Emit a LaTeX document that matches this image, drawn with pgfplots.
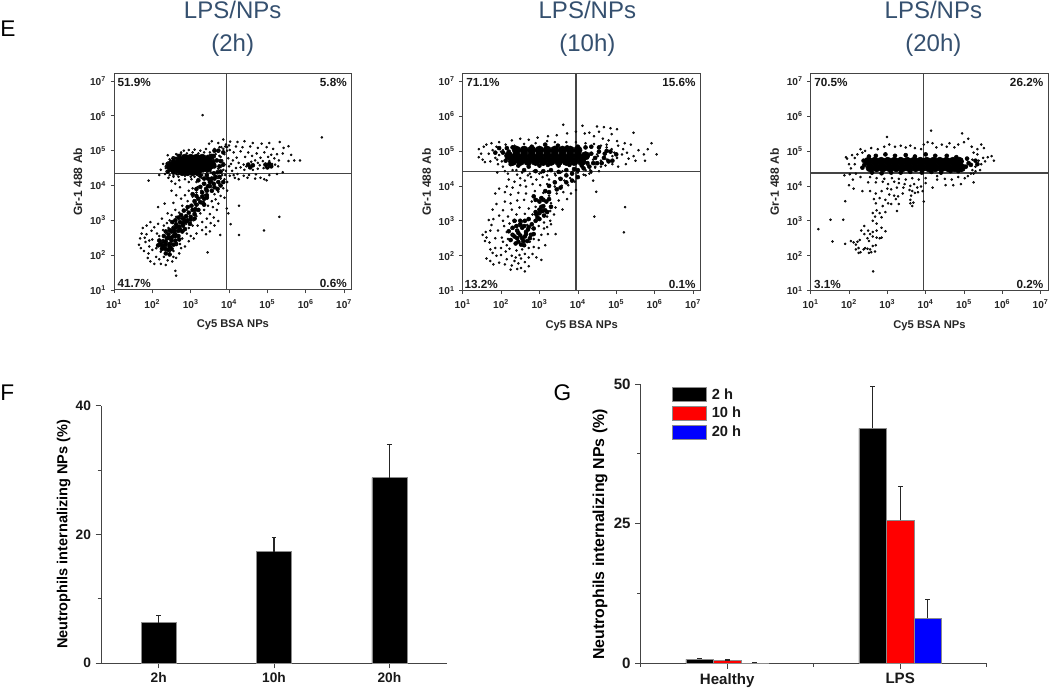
\documentclass[border=0pt]{standalone}
\usepackage{pgfplots}
\usepackage{pgfplotstable}
\usepackage{fontspec}
\setmainfont{Liberation Sans}
\pgfplotsset{compat=1.18}
\definecolor{ttl}{HTML}{35506F}
\definecolor{axc}{HTML}{444444}
% flow cytometry events: log10(x) log10(y)
\pgfplotstableread[row sep=\\]{x y\\
3.31 6.02\\ 6.42 5.38\\ 1.90 4.14\\ 4.26 3.42\\ 4.26 2.58\\ 4.91 2.71\\ 5.31 3.10\\ 3.94 3.34\\ 3.98 3.20\\ 4.04 2.89\\ 3.77 2.58\\ 3.44 2.08\\ 2.62 1.41\\ 2.60 1.55\\
5.05 5.22\\ 5.32 5.25\\ 4.85 5.20\\ 4.62 5.22\\ 4.40 5.27\\ 4.22 5.25\\ 4.03 5.26\\ 3.85 5.32\\ 3.55 5.27\\ 3.48 5.20\\ 3.72 5.22\\ 3.92 5.18\\ 4.18 5.12\\ 4.35 5.10\\ 4.55 5.12\\ 4.75 5.08\\ 4.98 5.10\\ 5.15 5.05\\ 5.42 5.08\\ 5.55 5.13\\ 5.40 4.92\\ 5.62 4.88\\ 5.30 4.72\\ 5.55 4.70\\ 5.70 4.72\\ 5.85 4.72\\ 5.25 4.90\\ 5.10 4.88\\ 4.92 4.95\\ 4.72 4.92\\ 4.50 4.95\\ 4.30 4.98\\ 4.12 4.95\\ 4.02 5.02\\ 4.20 4.80\\ 4.42 4.82\\ 4.60 4.85\\ 4.82 4.80\\ 5.02 4.82\\ 5.18 4.78\\ 4.10 4.72\\ 4.25 4.65\\ 4.38 4.60\\ 4.45 4.55\\ 4.52 4.62\\ 4.58 4.68\\ 4.68 4.72\\ 4.75 4.65\\ 4.80 4.58\\ 4.88 4.70\\ 4.95 4.62\\ 5.00 4.55\\ 5.05 4.70\\ 5.12 4.62\\ 5.20 4.60\\ 5.28 4.55\\ 4.90 4.50\\ 4.75 4.48\\ 4.62 4.45\\ 4.40 4.45\\ 4.30 4.52\\ 4.18 4.50\\ 4.08 4.42\\ 4.00 4.55\\ 4.05 4.62\\ 4.12 4.30\\ 4.02 4.28\\ 4.22 4.33\\ 4.38 4.28\\ 4.48 4.22\\ 4.52 4.30\\ 4.70 4.32\\ 4.82 4.22\\ 4.92 4.18\\ 4.98 4.15\\ 5.05 4.30\\ 5.25 4.33\\ 5.40 4.38\\ 4.68 4.20\\ 4.25 4.18\\ 4.15 4.22\\
3.95 5.10\\ 3.80 5.10\\ 3.62 5.05\\ 3.40 5.05\\ 3.25 5.00\\ 3.10 5.03\\ 2.95 5.02\\ 2.82 5.00\\ 3.72 4.98\\ 3.88 4.90\\ 3.98 4.78\\ 3.78 4.82\\ 3.85 4.65\\ 2.40 4.87\\ 2.60 4.75\\ 2.47 4.70\\ 2.35 4.55\\ 2.28 4.62\\ 2.22 4.45\\ 2.33 4.33\\ 2.18 4.30\\ 2.42 4.22\\ 2.55 4.25\\ 2.50 4.12\\ 2.70 4.15\\ 2.60 4.05\\ 2.85 4.18\\ 2.95 4.10\\ 2.75 4.95\\ 2.62 4.90\\ 3.50 4.88\\ 3.62 4.82\\ 3.92 4.42\\ 3.82 4.30\\ 3.88 4.18\\ 3.95 4.10\\ 3.75 4.02\\ 3.85 3.92\\ 3.95 3.85\\ 3.72 3.82\\ 3.78 3.70\\ 3.88 3.65\\ 3.62 3.75\\ 3.65 3.60\\ 3.55 3.55\\ 3.72 3.48\\ 3.45 3.42\\ 3.58 3.38\\ 3.30 3.52\\ 3.68 3.30\\ 3.35 3.30\\ 3.18 3.45\\ 3.50 3.18\\ 3.25 3.20\\ 3.60 3.08\\ 3.42 3.05\\ 3.15 3.12\\ 3.72 2.98\\ 3.30 2.95\\ 3.52 2.92\\ 3.62 2.85\\ 3.40 2.80\\ 3.18 2.85\\ 3.30 2.72\\ 3.50 2.68\\ 3.15 2.62\\ 3.40 2.60\\
3.05 3.92\\ 3.15 3.80\\ 2.95 3.85\\ 2.72 3.95\\ 2.85 3.72\\ 3.05 3.68\\ 2.75 3.62\\ 2.62 3.72\\ 2.50 3.85\\ 2.92 3.55\\ 3.10 3.50\\ 2.55 3.50\\ 2.78 3.42\\ 2.32 3.48\\ 2.60 3.30\\ 2.90 3.30\\ 2.70 3.22\\ 2.50 3.15\\ 2.15 3.38\\ 2.40 3.20\\ 2.25 3.05\\ 2.45 3.00\\ 2.30 2.85\\ 2.15 2.90\\ 2.05 2.80\\ 1.98 2.70\\ 1.85 2.85\\ 1.75 2.78\\ 1.95 2.95\\ 1.85 2.60\\ 1.72 2.62\\ 1.80 2.50\\ 1.68 2.48\\ 1.92 2.42\\ 2.00 2.45\\ 1.82 2.38\\ 1.65 2.30\\ 1.70 2.20\\ 1.92 2.25\\ 1.78 2.12\\ 2.00 2.15\\ 1.90 2.05\\ 1.88 1.92\\ 1.95 1.82\\ 2.05 1.75\\ 2.18 1.88\\ 2.10 1.95\\ 2.22 1.75\\ 2.35 1.72\\ 2.40 1.85\\ 2.52 1.82\\ 2.30 1.95\\ 2.55 1.95\\ 2.62 1.92\\ 2.70 2.05\\ 2.75 2.20\\ 2.85 2.25\\ 2.72 2.32\\ 2.95 2.40\\ 3.00 2.55\\ 3.08 2.48\\ 2.90 2.62\\ 2.10 2.20\\ 2.22 2.10\\ 2.45 2.10\\ 2.55 2.12\\ 2.62 2.30\\ 2.48 2.35\\ 2.78 2.48\\ 2.82 2.70\\ 2.95 2.78\\ 2.88 2.90\\ 3.05 2.85\\ 3.08 3.00\\ 2.98 3.12\\ 3.12 3.25\\ 3.22 3.62\\ 3.35 3.72\\ 3.28 3.85\\ 3.18 3.95\\ 3.40 3.85\\ 3.32 4.05\\ 3.15 4.10\\ 3.02 4.18\\ 3.50 4.02\\ 3.28 4.22\\ 3.10 4.25\\ 2.25 2.40\\ 2.18 2.55\\ 2.35 2.65\\ 2.12 2.62\\ 2.28 2.72\\ 2.42 2.78\\ 2.55 2.82\\ 2.38 2.92\\ 2.62 2.95\\ 2.72 3.05\\ 2.80 3.10\\ 2.62 3.10\\
2.35 4.50\\ 2.40 4.65\\ 2.38 4.40\\ 2.45 4.30\\ 2.55 4.30\\ 2.65 4.35\\ 2.68 4.25\\ 2.45 4.75\\ 2.55 4.80\\ 2.65 4.88\\ 2.75 4.90\\ 2.90 4.92\\ 3.05 4.95\\ 3.20 4.92\\ 3.35 4.95\\ 3.50 4.95\\ 3.65 4.90\\ 3.75 4.85\\ 3.82 4.72\\ 3.58 4.75\\ 3.88 4.60\\ 3.80 4.55\\ 3.72 4.48\\ 3.85 4.45\\ 3.90 4.30\\ 3.78 4.20\\ 3.70 4.22\\ 3.30 4.30\\ 3.42 4.35\\ 3.52 4.38\\ 3.60 4.32\\ 3.20 4.28\\ 3.00 4.25\\ 2.85 4.28\\ 3.95 5.00\\ 3.90 5.12\\ 4.00 5.15\\ 3.85 5.05\\ 3.75 5.10\\
}\tAsparse
\pgfplotstableread[row sep=\\]{x y\\
2.78 4.40\\ 2.92 4.40\\ 3.05 4.40\\ 3.18 4.40\\
2.52 4.50\\ 2.65 4.50\\ 2.78 4.50\\ 2.92 4.50\\ 3.05 4.50\\ 3.18 4.50\\ 3.32 4.50\\ 3.45 4.50\\
2.50 4.60\\ 2.63 4.60\\ 2.76 4.60\\ 2.90 4.60\\ 3.03 4.60\\ 3.16 4.60\\ 3.30 4.60\\ 3.43 4.60\\ 3.55 4.60\\
2.62 4.70\\ 2.75 4.70\\ 2.88 4.70\\ 3.01 4.70\\ 3.14 4.70\\ 3.27 4.70\\ 3.40 4.70\\ 3.52 4.70\\
2.85 4.78\\ 3.00 4.78\\ 3.15 4.78\\ 3.30 4.78\\
}\tAcore
\pgfplotstableread[row sep=\\]{x y\\
3.62 4.55\\ 3.70 4.38\\ 3.68 4.72\\ 3.62 4.20\\ 3.52 4.12\\ 3.50 3.98\\ 3.42 3.85\\ 3.42 3.65\\ 3.32 3.50\\ 3.00 3.02\\ 2.92 3.00\\ 2.85 2.95\\ 2.80 2.85\\ 2.62 2.80\\ 2.55 2.68\\ 2.50 2.50\\ 2.42 2.50\\ 2.35 2.38\\ 2.28 2.28\\ 2.45 2.25\\ 2.35 2.18\\ 2.20 2.32\\ 2.60 2.55\\ 2.72 2.75\\ 3.10 3.05\\ 3.72 5.00\\ 3.55 4.85\\ 3.85 4.95\\ 3.62 5.00\\
3.25 3.96\\ 3.35 4.05\\ 3.15 3.90\\ 3.30 3.80\\ 3.40 3.90\\ 3.50 4.10\\ 3.55 4.20\\ 3.65 4.25\\ 3.45 4.20\\ 3.72 4.10\\ 3.60 4.05\\ 3.45 3.98\\ 3.30 3.68\\ 3.20 3.62\\ 3.25 3.52\\ 3.15 3.45\\ 3.35 3.45\\ 3.05 3.30\\ 2.95 3.22\\ 2.88 3.12\\ 3.00 3.10\\ 2.80 3.05\\ 2.75 3.15\\ 2.90 2.98\\ 2.72 2.95\\ 2.62 2.88\\ 2.70 2.82\\ 2.55 2.78\\ 2.50 2.68\\ 2.60 2.60\\ 2.42 2.60\\ 2.38 2.48\\ 2.50 2.42\\ 2.28 2.40\\ 2.35 2.30\\ 2.22 2.30\\ 2.45 2.32\\ 2.55 2.30\\ 2.30 2.20\\ 2.42 2.15\\ 2.60 2.42\\ 2.68 2.55\\ 2.78 2.68\\ 2.85 2.75\\ 3.10 3.18\\ 3.20 3.30\\ 3.75 4.55\\ 3.78 4.40\\
4.50 4.60\\ 4.62 4.58\\ 4.55 4.52\\ 4.95 4.60\\ 5.05 4.62\\ 5.10 4.55\\ 5.00 4.52\\
3.05 3.75\\ 3.15 3.70\\ 3.42 3.72\\ 3.10 3.55\\ 3.35 3.62\\ 3.02 3.42\\ 2.92 3.38\\ 3.12 3.32\\ 2.82 3.28\\ 2.68 3.08\\ 2.98 2.90\\ 2.85 3.00\\ 2.60 3.00\\ 2.52 2.95\\ 2.78 2.92\\ 2.68 2.70\\ 2.58 2.70\\ 2.45 2.72\\ 2.35 2.68\\ 2.45 2.50\\ 2.30 2.55\\ 2.18 2.42\\ 2.55 2.55\\ 2.62 2.32\\ 2.50 2.18\\ 2.25 2.18\\ 2.35 2.05\\ 2.45 2.02\\ 2.15 2.28\\ 2.70 2.45\\ 3.55 3.85\\ 3.62 3.95\\ 3.35 4.20\\ 3.20 4.15\\ 3.60 4.35\\ 3.42 4.30\\ 3.25 4.28\\ 3.75 4.25\\ 3.85 4.10\\ 3.70 3.90\\ 3.78 4.00\\ 2.40 4.40\\ 2.42 4.52\\ 2.40 4.62\\ 2.55 4.38\\ 2.65 4.35\\ 2.55 4.78\\ 2.70 4.85\\ 3.45 4.82\\ 3.60 4.85\\ 3.85 4.60\\ 3.78 4.70\\
}\tAmid
\pgfplotstableread[row sep=\\]{x y\\
4.48 3.83\\ 5.23 3.39\\ 4.43 3.12\\ 5.20 2.67\\ 4.40 4.15\\ 4.20 4.30\\ 4.35 4.38\\
4.12 5.72\\ 3.62 5.75\\ 4.50 5.70\\ 4.68 5.68\\ 4.85 5.65\\ 5.02 5.62\\ 5.45 5.52\\ 4.88 5.48\\ 4.55 5.55\\ 4.30 5.52\\ 4.18 5.50\\ 3.95 5.55\\ 3.72 5.50\\ 3.45 5.45\\ 3.22 5.42\\ 2.95 5.38\\ 2.72 5.32\\ 2.50 5.35\\ 2.28 5.30\\ 2.12 5.18\\ 1.95 5.25\\ 1.75 5.22\\ 1.55 5.12\\ 1.62 5.18\\ 1.42 5.05\\ 1.48 4.92\\ 1.52 4.75\\ 1.58 4.68\\ 1.42 4.82\\ 1.68 4.92\\ 1.78 5.02\\ 1.88 5.12\\ 2.00 4.98\\ 1.85 4.80\\ 2.02 4.70\\ 1.72 4.70\\ 1.92 4.62\\ 2.05 4.55\\ 2.10 4.42\\ 2.18 4.35\\ 1.90 4.38\\
4.42 5.42\\ 4.65 5.35\\ 4.80 5.30\\ 5.02 5.28\\ 5.22 5.22\\ 5.18 5.05\\ 5.05 5.15\\ 4.75 5.18\\ 4.88 5.05\\ 5.28 4.95\\ 5.45 4.85\\ 5.38 5.18\\ 5.58 5.02\\ 5.72 4.90\\ 5.82 5.05\\ 6.05 4.90\\ 5.92 5.22\\ 5.75 4.72\\ 5.50 4.72\\ 5.25 4.62\\ 5.32 4.78\\ 5.05 4.55\\ 4.90 4.62\\ 4.72 4.58\\ 4.55 4.42\\ 4.45 4.52\\ 4.32 4.45\\ 4.25 4.60\\ 4.78 4.75\\ 5.02 4.80\\ 5.15 4.90\\ 4.95 4.95\\ 4.62 4.68\\ 4.52 4.85\\ 4.30 4.35\\ 4.15 4.32\\ 4.00 4.38\\ 3.85 4.40\\
3.70 4.32\\ 3.55 4.38\\ 3.42 4.30\\ 3.22 4.42\\ 3.05 4.38\\ 2.85 4.42\\ 2.70 4.30\\ 2.55 4.38\\ 2.42 4.32\\ 2.30 4.45\\ 2.20 4.18\\ 2.35 4.12\\ 2.50 4.22\\ 2.62 4.15\\ 2.78 4.25\\ 2.92 4.18\\ 3.08 4.25\\ 3.25 4.18\\ 3.38 4.12\\ 3.52 4.22\\ 3.65 4.15\\ 3.80 4.22\\ 3.92 4.12\\ 3.75 4.02\\ 3.58 4.00\\ 3.40 3.98\\ 3.20 4.05\\ 3.02 4.02\\ 2.82 4.05\\ 2.65 3.98\\ 2.50 4.02\\ 2.30 3.95\\ 2.15 3.98\\ 2.10 3.82\\ 1.95 3.92\\ 1.85 3.78\\ 2.25 3.75\\ 2.45 3.80\\ 2.65 3.78\\ 2.88 3.85\\ 3.10 3.80\\ 3.25 3.72\\ 3.45 3.78\\ 3.62 3.82\\ 3.82 3.78\\ 3.95 3.88\\ 3.72 3.62\\ 3.50 3.58\\ 3.30 3.50\\ 3.12 3.62\\ 2.95 3.60\\ 2.80 3.55\\ 2.60 3.60\\ 2.42 3.58\\ 2.25 3.50\\ 2.10 3.55\\ 1.88 3.48\\ 1.78 3.32\\ 2.05 3.30\\ 2.28 3.32\\ 2.48 3.38\\ 2.72 3.35\\ 2.90 3.40\\ 3.08 3.35\\ 3.28 3.28\\ 3.42 3.38\\ 3.60 3.32\\ 3.20 3.12\\ 3.02 3.22\\ 2.82 3.18\\ 2.62 3.20\\ 2.40 3.18\\ 2.18 3.12\\ 1.95 3.15\\ 1.80 3.05\\ 1.68 3.02\\ 1.75 2.88\\ 1.72 2.72\\ 1.60 2.68\\ 1.62 2.52\\ 1.52 2.60\\ 1.58 2.42\\ 1.70 2.38\\ 1.85 2.50\\ 2.02 2.52\\ 1.92 2.72\\ 2.08 2.85\\ 2.05 3.00\\ 2.22 2.92\\ 2.38 3.00\\ 2.55 2.98\\ 2.70 3.02\\ 2.92 3.05\\ 3.12 2.95\\ 3.28 3.00\\ 3.12 2.78\\ 2.98 2.85\\ 3.22 2.62\\ 3.05 2.60\\ 3.42 2.62\\ 2.98 2.45\\ 3.15 2.30\\ 2.98 2.22\\ 2.85 2.25\\ 2.82 2.05\\ 2.92 1.95\\ 2.72 1.95\\ 3.05 1.88\\ 2.62 1.82\\ 2.72 1.70\\ 2.52 1.65\\ 2.62 1.55\\ 2.45 1.78\\ 2.35 1.85\\ 2.28 1.72\\ 2.42 1.62\\ 2.25 1.60\\ 2.10 1.75\\ 2.15 1.90\\ 1.95 1.80\\ 1.80 1.75\\ 1.72 1.85\\ 1.62 1.92\\ 1.88 2.00\\ 2.00 2.02\\ 2.12 2.12\\ 2.00 2.22\\ 1.85 2.22\\ 1.72 2.18\\ 1.78 2.08\\ 2.22 2.20\\ 2.15 2.30\\ 2.05 2.40\\ 2.18 2.48\\ 2.30 2.60\\ 2.15 2.68\\ 2.28 2.78\\ 2.42 2.72\\ 2.48 2.85\\ 2.68 2.88\\ 2.82 2.78\\ 2.75 2.40\\ 2.85 2.48\\ 2.78 2.58\\ 2.62 2.30\\ 2.72 2.22\\ 2.55 2.18\\ 2.62 2.05\\ 2.48 2.02\\ 2.40 2.15\\ 2.52 1.92\\ 2.28 2.00\\ 2.38 1.95\\ 3.30 2.90\\ 3.20 2.82\\ 3.38 3.18\\
1.95 4.88\\ 2.05 5.02\\ 1.90 4.75\\ 4.40 4.75\\ 4.50 4.90\\ 4.60 4.72\\ 4.75 4.75\\ 4.90 4.85\\ 3.20 4.30\\ 3.00 4.35\\ 2.75 4.35\\ 2.55 4.40\\ 2.40 4.45\\ 3.40 4.35\\ 3.60 4.42\\ 4.20 4.45\\ 4.35 4.42\\ 4.45 4.55\\ 4.60 4.55\\ 4.75 5.10\\ 4.60 5.15\\ 4.42 5.20\\ 4.20 5.22\\ 3.95 5.25\\ 3.70 5.25\\ 3.40 5.25\\ 3.20 5.28\\ 2.90 5.22\\ 2.60 5.20\\ 2.35 5.15\\
}\tBsparse
\pgfplotstableread[row sep=\\]{x y\\
2.30 4.70\\ 2.50 4.70\\ 2.70 4.70\\ 2.90 4.70\\ 3.10 4.70\\ 3.30 4.70\\ 3.50 4.70\\ 3.70 4.70\\ 3.90 4.70\\ 4.10 4.70\\
2.20 4.86\\ 2.40 4.86\\ 2.60 4.86\\ 2.80 4.86\\ 3.00 4.86\\ 3.20 4.86\\ 3.40 4.86\\ 3.60 4.86\\ 3.80 4.86\\ 4.00 4.86\\ 4.20 4.86\\
2.40 5.02\\ 2.60 5.02\\ 2.80 5.02\\ 3.00 5.02\\ 3.20 5.02\\ 3.40 5.02\\ 3.60 5.02\\ 3.80 5.02\\ 4.00 5.02\\
}\tBcore
\pgfplotstableread[row sep=\\]{x y\\
4.25 4.85\\ 4.35 4.92\\ 4.45 4.80\\ 4.55 4.98\\ 4.70 4.92\\ 4.68 4.80\\ 4.85 4.98\\ 2.20 4.98\\ 2.05 4.95\\ 2.12 4.72\\ 2.25 4.62\\ 2.45 4.58\\ 2.72 4.55\\ 3.00 4.58\\ 3.22 4.60\\ 3.50 4.58\\ 3.78 4.60\\ 4.10 4.58\\ 4.25 4.65\\ 3.48 5.15\\ 3.72 5.10\\ 4.00 5.12\\ 4.20 5.10\\ 2.80 5.12\\ 3.15 5.18\\
2.42 2.72\\ 2.55 2.80\\ 2.65 2.68\\ 2.50 2.58\\ 2.62 2.55\\ 2.72 2.82\\ 2.42 2.50\\ 2.58 2.42\\ 3.00 3.32\\ 3.05 3.40\\ 2.92 3.18\\ 2.90 3.25\\ 3.18 3.55\\ 3.25 3.62\\
2.35 2.55\\ 2.45 2.65\\ 2.55 2.50\\ 2.65 2.62\\ 2.70 2.75\\ 2.60 2.85\\ 2.50 2.90\\ 2.40 2.85\\ 2.30 2.80\\ 2.45 2.40\\ 2.60 2.30\\ 2.75 2.50\\ 2.85 2.62\\ 2.80 2.90\\ 2.90 3.00\\ 2.95 3.10\\ 3.00 3.22\\ 3.08 3.28\\ 3.15 3.30\\ 3.10 3.42\\ 3.00 3.55\\ 2.90 3.60\\ 2.85 3.70\\ 3.05 3.65\\ 3.15 3.85\\ 3.25 4.00\\ 3.40 4.10\\ 3.55 4.20\\ 3.70 4.30\\ 3.85 4.35\\ 4.00 4.45\\
2.30 2.60\\ 2.38 2.35\\ 2.52 2.32\\ 2.68 2.42\\ 2.78 2.60\\ 2.85 2.78\\ 2.50 3.00\\ 2.35 3.00\\ 2.62 3.00\\ 2.20 2.70\\ 2.25 2.45\\ 2.72 3.05\\ 3.00 3.05\\ 3.12 3.15\\ 3.20 3.25\\ 3.10 3.60\\ 3.30 3.40\\ 3.25 3.82\\ 3.45 3.90\\ 3.55 3.95\\ 3.70 4.10\\ 3.85 4.15\\ 4.00 4.25\\ 3.50 4.40\\ 3.30 4.45\\ 3.10 4.42\\ 2.90 4.42\\ 2.60 4.45\\ 3.70 4.45\\ 3.90 4.48\\ 4.15 4.50\\ 4.30 4.55\\ 4.50 4.65\\ 4.62 4.65\\ 4.80 4.70\\ 4.55 5.10\\ 4.35 5.12\\ 1.85 4.95\\ 1.95 5.08\\ 2.15 5.08\\ 2.30 5.10\\ 4.40 4.65\\ 4.75 5.00\\ 5.00 4.90\\ 4.90 4.72\\
}\tBmid
\pgfplotstableread[row sep=\\]{x y\\
1.20 2.76\\ 1.52 3.03\\ 1.85 3.03\\ 1.57 2.41\\ 1.90 2.34\\ 1.90 3.56\\ 2.63 1.55\\ 4.14 5.58\\ 4.95 5.50\\ 5.11 5.35\\ 2.99 5.40\\
2.25 2.22\\ 2.18 2.32\\ 2.05 2.42\\ 2.12 2.38\\ 2.22 2.40\\ 2.28 2.45\\ 2.18 2.18\\ 2.25 2.08\\ 2.30 2.10\\ 2.42 2.22\\ 2.38 2.18\\ 2.52 2.42\\ 2.62 2.28\\ 2.52 2.08\\ 2.48 2.20\\ 2.55 2.18\\ 2.58 2.10\\ 2.68 2.12\\ 2.70 2.30\\ 2.80 2.50\\ 2.72 2.52\\ 2.62 2.55\\ 2.48 2.50\\ 2.40 2.62\\ 2.32 2.72\\ 2.40 2.85\\ 2.50 2.72\\ 2.55 2.62\\ 2.62 2.68\\ 2.72 2.72\\ 2.85 2.52\\ 2.95 2.70\\ 2.85 2.80\\ 2.72 2.92\\ 2.62 3.00\\ 2.68 3.12\\ 2.72 3.30\\ 2.80 3.22\\ 2.62 3.22\\ 2.70 3.50\\ 2.85 3.10\\ 2.95 3.25\\ 2.88 3.42\\ 2.65 3.62\\ 2.80 3.65\\ 2.95 3.60\\ 3.02 3.50\\ 3.10 3.48\\ 3.05 3.75\\ 2.70 3.78\\ 2.55 3.85\\ 2.85 3.85\\ 3.00 3.92\\ 3.22 3.62\\ 3.28 3.70\\ 3.18 3.72\\ 3.40 3.78\\ 3.10 3.90\\ 3.25 3.95\\ 3.42 3.95\\ 3.60 3.60\\ 3.60 3.50\\ 3.68 3.52\\ 3.62 3.72\\ 3.65 3.85\\ 3.72 3.80\\ 3.80 3.82\\ 3.58 3.88\\ 3.78 3.95\\ 3.88 3.98\\ 3.92 3.85\\ 4.00 4.08\\ 3.60 4.00\\ 3.70 4.05\\ 3.45 4.05\\ 3.30 4.08\\ 3.18 4.12\\ 3.02 4.05\\ 2.88 4.12\\ 2.70 4.10\\ 2.50 4.10\\ 2.35 3.85\\ 2.12 3.92\\ 2.10 4.18\\ 2.00 4.02\\ 2.55 4.25\\ 2.72 4.22\\ 2.92 4.20\\ 3.12 4.22\\ 3.30 4.20\\ 3.48 4.18\\ 3.65 4.22\\ 3.82 4.18\\ 4.00 4.22\\ 4.18 3.95\\ 4.30 4.18\\ 4.52 4.02\\ 4.50 4.20\\ 4.68 4.18\\ 4.72 4.02\\ 4.92 4.05\\ 5.02 4.22\\ 5.25 4.10\\ 5.10 4.28\\ 5.18 4.35\\ 4.85 4.25\\ 4.30 4.28\\ 2.30 4.25\\ 2.18 4.35\\ 2.02 4.33\\ 1.88 4.30\\ 2.05 4.50\\ 2.15 4.62\\ 2.00 4.62\\ 1.95 4.78\\ 1.92 4.82\\ 2.15 4.80\\ 2.08 4.88\\ 2.22 4.90\\ 2.35 4.95\\ 2.30 5.05\\ 2.42 5.00\\ 2.58 5.08\\ 2.75 5.05\\ 2.92 5.12\\ 3.05 5.18\\ 3.20 5.12\\ 3.35 5.15\\ 3.48 5.10\\ 3.60 5.15\\ 3.72 5.08\\ 3.88 5.05\\ 3.95 5.18\\ 4.05 5.25\\ 4.18 5.22\\ 4.28 5.10\\ 4.42 5.18\\ 4.55 5.12\\ 4.62 5.22\\ 4.75 5.10\\ 4.85 5.18\\ 5.00 5.25\\ 5.20 5.12\\ 5.25 4.95\\ 5.35 5.05\\ 5.45 5.18\\ 5.52 5.08\\ 5.50 4.80\\ 5.62 4.82\\ 5.72 4.85\\ 5.78 4.72\\ 5.45 4.62\\ 5.38 4.72\\ 5.30 4.55\\ 5.55 4.70\\ 5.22 4.75\\ 5.35 4.90\\ 5.42 4.45\\ 5.22 4.45\\ 5.30 4.42\\ 5.25 4.35\\ 3.95 3.55\\ 3.65 3.42\\ 3.25 3.28\\ 3.30 3.48\\
}\tCsparse
\pgfplotstableread[row sep=\\]{x y\\
2.55 4.52\\ 2.72 4.52\\ 2.89 4.52\\ 3.06 4.52\\ 3.23 4.52\\ 3.40 4.52\\ 3.57 4.52\\ 3.74 4.52\\ 3.91 4.52\\ 4.08 4.52\\ 4.25 4.52\\ 4.42 4.52\\ 4.59 4.52\\ 4.76 4.52\\ 4.93 4.52\\
2.50 4.70\\ 2.67 4.70\\ 2.84 4.70\\ 3.01 4.70\\ 3.18 4.70\\ 3.35 4.70\\ 3.52 4.70\\ 3.69 4.70\\ 3.86 4.70\\ 4.03 4.70\\ 4.20 4.70\\ 4.37 4.70\\ 4.54 4.70\\ 4.71 4.70\\ 4.88 4.70\\
}\tCcore
\pgfplotstableread[row sep=\\]{x y\\
2.40 4.60\\ 2.35 4.52\\ 2.38 4.72\\ 2.52 4.84\\ 2.70 4.86\\ 2.95 4.90\\ 3.20 4.86\\ 3.48 4.88\\ 3.72 4.84\\ 4.00 4.90\\ 4.25 4.86\\ 4.55 4.86\\ 4.80 4.82\\ 5.05 4.55\\ 5.12 4.65\\ 2.60 4.38\\ 2.85 4.36\\ 3.10 4.38\\ 3.35 4.38\\ 3.60 4.40\\ 3.90 4.38\\ 4.15 4.40\\ 4.40 4.38\\ 4.65 4.42\\ 4.85 4.42\\ 5.30 4.72\\ 5.08 4.78\\ 5.18 4.60\\ 5.35 4.62\\
}\tCmid
\pgfplotsset{
  flowax/.style={
    scale only axis, log basis x=10, log basis y=10,
    xmin=10, xmax=1.58e7, ymin=10, ymax=1.66e7,
    axis line style={axc, line width=.75pt},
    xtick={1e1,1e2,1e3,1e4,1e5,1e6,1e7}, ytick={1e1,1e2,1e3,1e4,1e5,1e6,1e7},
    xticklabels={10\textsuperscript{1},10\textsuperscript{2},10\textsuperscript{3},10\textsuperscript{4},10\textsuperscript{5},10\textsuperscript{6},10\textsuperscript{7}},
    yticklabels={10\textsuperscript{1},10\textsuperscript{2},10\textsuperscript{3},10\textsuperscript{4},10\textsuperscript{5},10\textsuperscript{6},10\textsuperscript{7}},
    minor x tick num=8, minor y tick num=8,
    tick align=outside, xtick pos=bottom, ytick pos=left,
    major tick length=2.5pt, minor tick length=1.3pt,
    tick style={axc, line width=.5pt},
    minor tick style={axc, line width=.4pt},
    tick label style={font=\bfseries\fontsize{7.6}{9}\selectfont, black!85},
    xticklabel shift=1pt, yticklabel shift=0pt,
    xlabel={\bfseries\fontsize{8.4}{10}\selectfont Cy5 BSA NPs},
    ylabel={\bfseries\fontsize{9}{10}\selectfont Gr-1 488 Ab},
    xlabel style={yshift=-2pt, black!85},
    ylabel style={yshift=-1pt, black!85},
  },
  evdots/.style={only marks, mark=*, mark size=.75pt, mark options={draw=none, fill=black!80}},
  evmids/.style={only marks, mark=*, mark size=1.5pt, mark options={draw=none, fill=black}},
  evcores/.style={only marks, mark=*, mark size=3.2pt, mark options={draw=none, fill=black}},
  qline/.style={axc, line width=.9pt, forget plot},
  barax/.style={
    scale only axis, axis lines*=left, axis line style={-, axc, line width=.75pt},
    tick align=outside, tick style={axc, line width=.75pt}, major tick length=4pt, minor tick length=2.5pt,
    minor tick style={axc, line width=.6pt},
    xtick pos=bottom, ytick pos=left,
    /pgf/number format/assume math mode=true,
    ymin=0,
    error bars/error bar style={black!85, line width=.8pt},
    error bars/error mark options={rotate=90, mark size=1.8pt, line width=.8pt, black!85},
  },
}
\tikzset{pct/.style={font=\bfseries\fontsize{8.8}{10}\selectfont, inner sep=0pt, black!90}}
\begin{document}
\begin{tikzpicture}
\useasboundingbox (0pt,0pt) rectangle (787.5pt,517.5pt);
% ---------- E
\begin{axis}[xmode=log, ymode=log, flowax, at={(85.5pt,300pt)}, width=178.3pt, height=162.5pt]
\addplot[evcores] table[x expr={10^\thisrow{x}}, y expr={10^\thisrow{y}}] {\tAcore};
\addplot[evmids] table[x expr={10^\thisrow{x}}, y expr={10^\thisrow{y}}] {\tAmid};
\addplot[evdots] table[x expr={10^\thisrow{x}}, y expr={10^\thisrow{y}}] {\tAsparse};
\addplot[qline] coordinates {(8700,10) (8700,1.66e7)};
\addplot[qline] coordinates {(10,22400) (1.58e7,22400)};
\node[pct, anchor=west] at (rel axis cs:0.014,0.957) {51.9\%};
\node[pct, anchor=east] at (rel axis cs:0.98,0.957) {5.8\%};
\node[pct, anchor=west] at (rel axis cs:0.014,0.028) {41.7\%};
\node[pct, anchor=east] at (rel axis cs:0.98,0.028) {0.6\%};
\end{axis}
\begin{axis}[xmode=log, ymode=log, flowax, at={(347pt,299.5pt)}, width=178.5pt, height=163pt]
\addplot[evcores] table[x expr={10^\thisrow{x}}, y expr={10^\thisrow{y}}] {\tBcore};
\addplot[evmids] table[x expr={10^\thisrow{x}}, y expr={10^\thisrow{y}}] {\tBmid};
\addplot[evdots] table[x expr={10^\thisrow{x}}, y expr={10^\thisrow{y}}] {\tBsparse};
\addplot[qline] coordinates {(8900,10) (8900,1.66e7)};
\addplot[qline] coordinates {(10,25100) (1.58e7,25100)};
\node[pct, anchor=west] at (rel axis cs:0.014,0.957) {71.1\%};
\node[pct, anchor=east] at (rel axis cs:0.98,0.957) {15.6\%};
\node[pct, anchor=west] at (rel axis cs:0.007,0.028) {13.2\%};
\node[pct, anchor=east] at (rel axis cs:0.98,0.028) {0.1\%};
\end{axis}
\begin{axis}[xmode=log, ymode=log, flowax, at={(608pt,299.5pt)}, width=178.2pt, height=163pt]
\addplot[evcores] table[x expr={10^\thisrow{x}}, y expr={10^\thisrow{y}}] {\tCcore};
\addplot[evmids] table[x expr={10^\thisrow{x}}, y expr={10^\thisrow{y}}] {\tCmid};
\addplot[evdots] table[x expr={10^\thisrow{x}}, y expr={10^\thisrow{y}}] {\tCsparse};
\addplot[qline] coordinates {(8700,10) (8700,1.66e7)};
\addplot[qline] coordinates {(10,23400) (1.58e7,23400)};
\node[pct, anchor=west] at (rel axis cs:0.014,0.957) {70.5\%};
\node[pct, anchor=east] at (rel axis cs:0.98,0.957) {26.2\%};
\node[pct, anchor=west] at (rel axis cs:0.013,0.028) {3.1\%};
\node[pct, anchor=east] at (rel axis cs:0.98,0.028) {0.2\%};
\end{axis}
% ---------- F
\begin{axis}[barax, ybar, bar width=26.25pt, at={(75.75pt,20.25pt)}, width=259.5pt, height=193pt,
  xmin=.5, xmax=3.5, ymax=40, xtick={1,2,3}, xticklabels={2h,10h,20h},
  ytick={0,20,40}, minor y tick num=1,
  tick label style={font=\bfseries\fontsize{10.3}{12}\selectfont, black!90},
  ylabel={\bfseries\fontsize{10.9}{12}\selectfont Neutrophils internalizing NPs (\%)},
  ylabel style={yshift=-3pt}]
\addplot[fill=black, draw=black!45, line width=.5pt, error bars/.cd, y dir=plus, y explicit]
  coordinates {(1,6.27) +- (0,1.09) (2,17.3) +- (0,2.2) (3,28.8) +- (0,5.2)};
\end{axis}
% ---------- G
\begin{axis}[barax, ybar=0pt, bar width=20.6pt, at={(480.5pt,20pt)}, width=259.5pt, height=209.5pt,
  xmin=.5, xmax=2.5, ymax=50, xtick={1,2}, xticklabels={Healthy,LPS},
  minor xtick={.5,1.5,2.5}, ytick={0,25,50}, minor y tick num=1,
  tick label style={font=\bfseries\fontsize{11.3}{13}\selectfont, black!90},
  ylabel={\bfseries\fontsize{11.9}{13}\selectfont Neutrophils internalizing NPs (\%)},
  ylabel style={at={(ticklabel cs:0.462)}, yshift=-2pt},
  legend image code/.code={\draw[#1, draw=black!45, line width=.5pt] (0pt,-5.25pt) rectangle (26pt,5.25pt); \path (29pt,0pt);},
  legend style={draw=none, fill=none, at={(0.09,0.988)}, anchor=north west, inner sep=0pt, outer sep=0pt,
    font=\bfseries\fontsize{11}{12}\selectfont, row sep=3pt,
    nodes={inner sep=0.5pt, black!90}},
  legend cell align=left]
\addplot[fill=black, draw=black!45, line width=.5pt, error bars/.cd, y dir=plus, y explicit]
  coordinates {(1,.72) +- (0,.18) (2,42.06) +- (0,7.44)};
\addplot[fill=red, draw=black!45, line width=.5pt, error bars/.cd, y dir=plus, y explicit]
  coordinates {(1,.48) +- (0,.12) (2,25.6) +- (0,6.1)};
\addplot[fill=blue, draw=black!45, line width=.5pt, error bars/.cd, y dir=plus, y explicit]
  coordinates {(1,.06) +- (0,.14) (2,8.05) +- (0,3.45)};
\legend{2 h,10 h,20 h}
\end{axis}
% ---------- titles and panel letters
\begin{scope}[every node/.style={font=\fontsize{18}{20}\selectfont, text=ttl, anchor=base, inner sep=0pt}]
\node at (174.5pt,503.5pt) {LPS/NPs};
\node at (174.5pt,479pt) {(2h)};
\node at (440.5pt,503.5pt) {LPS/NPs};
\node at (440.5pt,479pt) {(10h)};
\node at (700pt,503.5pt) {LPS/NPs};
\node at (700pt,479pt) {(20h)};
\end{scope}
\begin{scope}[every node/.style={font=\fontsize{17}{20}\selectfont, anchor=base west, inner sep=0pt, black}]
\node at (0pt,490pt) {E};
\node at (0pt,217.5pt) {F};
\node at (415pt,217.5pt) {G};
\end{scope}
\end{tikzpicture}
\end{document}
